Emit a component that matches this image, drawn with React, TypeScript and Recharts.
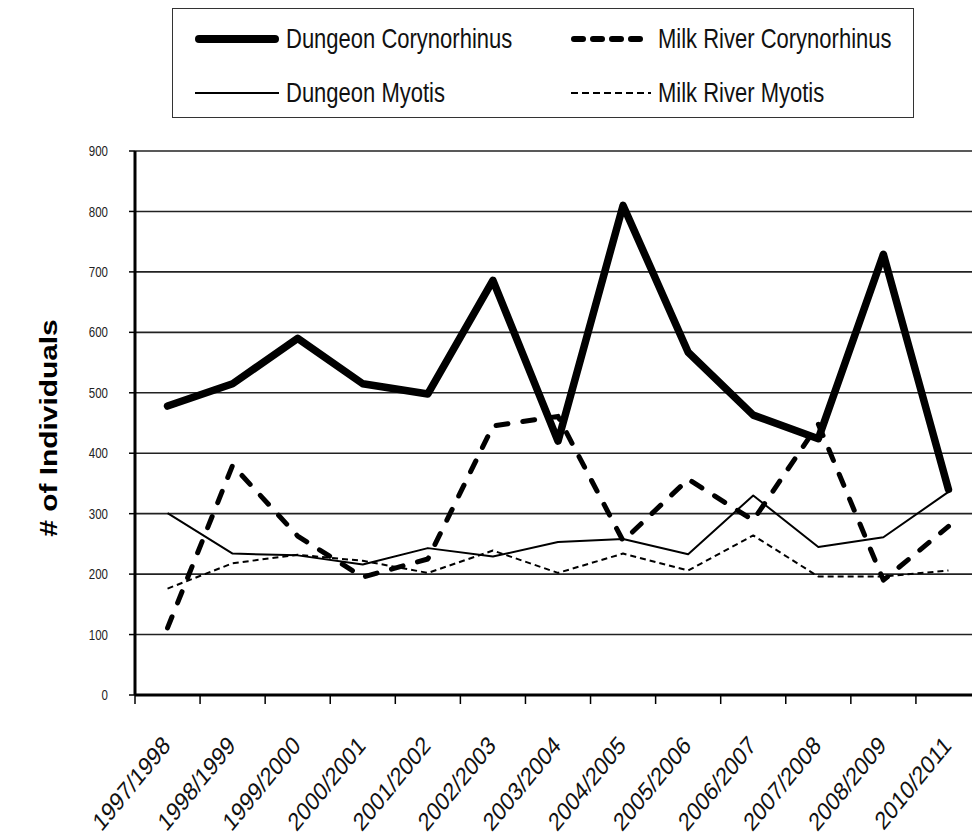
import { LineChart, Line, XAxis, YAxis, CartesianGrid } from "recharts";

const seasons = [
  "1997/1998",
  "1998/1999",
  "1999/2000",
  "2000/2001",
  "2001/2002",
  "2002/2003",
  "2003/2004",
  "2004/2005",
  "2005/2006",
  "2006/2007",
  "2007/2008",
  "2008/2009",
  "2010/2011",
];

const dungeonCorynorhinus = [478, 515, 590, 515, 498, 686, 420, 810, 567, 463, 424, 729, 340];
const milkRiverCorynorhinus = [111, 380, 263, 195, 225, 445, 461, 255, 357, 289, 448, 190, 279];
const dungeonMyotis = [301, 234, 231, 216, 243, 229, 253, 258, 233, 330, 245, 261, 336];
const milkRiverMyotis = [176, 218, 232, 222, 202, 239, 202, 234, 206, 264, 196, 196, 206];

const countTicks = [0, 100, 200, 300, 400, 500, 600, 700, 800, 900];

// the original picture is stretched vertically, text gets the same squash
const STRETCH = 1.22;
const FONT = "'Liberation Sans', Arial, Helvetica, sans-serif";

const W = 972;
const H = 840;
const PLOT_LEFT = 135;
const RIGHT_OVERFLOW = 9;
const BAND = (W - PLOT_LEFT + RIGHT_OVERFLOW) / seasons.length;

const data = seasons.map((season, i) => ({
  season,
  dungeonCory: dungeonCorynorhinus[i],
  milkCory: milkRiverCorynorhinus[i],
  dungeonMyo: dungeonMyotis[i],
  milkMyo: milkRiverMyotis[i],
}));

const SERIES = [
  { key: "dungeonCory", name: "Dungeon Corynorhinus", width: 7.5, dash: undefined, cap: "round" },
  { key: "milkCory", name: "Milk River Corynorhinus", width: 5, dash: "12 15", cap: "round" },
  { key: "dungeonMyo", name: "Dungeon Myotis", width: 2, dash: undefined, cap: "butt" },
  { key: "milkMyo", name: "Milk River Myotis", width: 2, dash: "6 4", cap: "butt" },
];

function SeasonTick({ x, y, payload }: any) {
  const axisY = y - 6;
  const bx = x - BAND / 2;
  return (
    <g>
      <line x1={bx} x2={bx} y1={axisY} y2={axisY + 9} stroke="#000" strokeWidth={1.5} />
      <text
        transform={`translate(${x + 4},${axisY + 52}) scale(1,${STRETCH}) rotate(-45)`}
        textAnchor="end"
        fontSize={21}
        fontFamily={FONT}
        fill="#111"
      >
        {payload.value}
      </text>
    </g>
  );
}

function CountTick({ x, y, payload }: any) {
  return (
    <text
      transform={`translate(${x},${y}) scale(1,${STRETCH})`}
      textAnchor="end"
      dy="0.36em"
      fontSize={11.5}
      fontFamily={FONT}
      fill="#222"
    >
      {payload.value}
    </text>
  );
}

function YTitle() {
  return (
    <text
      transform={`translate(57,428) scale(1,${STRETCH}) rotate(-90)`}
      textAnchor="middle"
      fontSize={24.5}
      fontWeight="bold"
      fontFamily={FONT}
      fill="#000"
    >
      # of Individuals
    </text>
  );
}

function Sample({ k }: { k: string }) {
  if (k === "dungeonCory")
    return <line x1={4} x2={80} y1={7} y2={7} stroke="#000" strokeWidth={8} strokeLinecap="round" />;
  if (k === "milkCory")
    return (
      <line x1={3} x2={77} y1={7} y2={7} stroke="#000" strokeWidth={6} strokeLinecap="round" strokeDasharray="9 10" />
    );
  if (k === "dungeonMyo") return <line x1={0} x2={84} y1={7} y2={7} stroke="#000" strokeWidth={2} />;
  return <line x1={0} x2={80} y1={7} y2={7} stroke="#000" strokeWidth={2} strokeDasharray="7 4" />;
}

function ChartLegend() {
  const cols = [22, 398];
  const sampleW = [84, 80];
  const rows = [30, 84];
  return (
    <div
      style={{
        position: "absolute",
        left: 172,
        top: 8,
        width: 740,
        height: 108,
        border: "1.5px solid #333",
        background: "#fff",
      }}
    >
      {SERIES.map((s, i) => (
        <div
          key={s.key}
          style={{
            position: "absolute",
            left: cols[i % 2],
            top: rows[Math.floor(i / 2)] - 15,
            height: 30,
            display: "flex",
            alignItems: "center",
          }}
        >
          <svg width={sampleW[i % 2]} height={14}>
            <Sample k={s.key} />
          </svg>
          <span
            style={{
              marginLeft: 7,
              fontFamily: FONT,
              fontSize: 22,
              lineHeight: 1,
              whiteSpace: "nowrap",
              display: "inline-block",
              transform: `scaleY(${STRETCH})`,
              color: "#111",
            }}
          >
            {s.name}
          </span>
        </div>
      ))}
    </div>
  );
}

export default function App() {
  return (
    <div style={{ position: "absolute", left: 0, top: 0, width: W, height: H, background: "#fff", overflow: "hidden" }}>
      <LineChart width={W} height={H} data={data} margin={{ top: 151, right: -RIGHT_OVERFLOW, bottom: 0, left: 0 }}>
        <CartesianGrid vertical={false} stroke="#222" strokeWidth={1.6} />
        <XAxis
          dataKey="season"
          scale="band"
          interval={0}
          height={145}
          tickSize={6}
          tickMargin={0}
          tickLine={false}
          tick={<SeasonTick />}
          axisLine={{ stroke: "#000", strokeWidth: 3 }}
        />
        <YAxis
          width={PLOT_LEFT}
          domain={[0, 900]}
          ticks={countTicks}
          interval={0}
          tickSize={6}
          tickMargin={21}
          tick={<CountTick />}
          tickLine={{ stroke: "#000", strokeWidth: 1.5 }}
          axisLine={{ stroke: "#000", strokeWidth: 3 }}
          label={{ content: () => <YTitle /> }}
        />
        {SERIES.map((s) => (
          <Line
            key={s.key}
            type="linear"
            dataKey={s.key}
            name={s.name}
            stroke="#000"
            strokeWidth={s.width}
            strokeDasharray={s.dash}
            strokeLinecap={s.cap as any}
            strokeLinejoin="round"
            dot={false}
            activeDot={false}
            isAnimationActive={false}
          />
        ))}
      </LineChart>
      <ChartLegend />
    </div>
  );
}
